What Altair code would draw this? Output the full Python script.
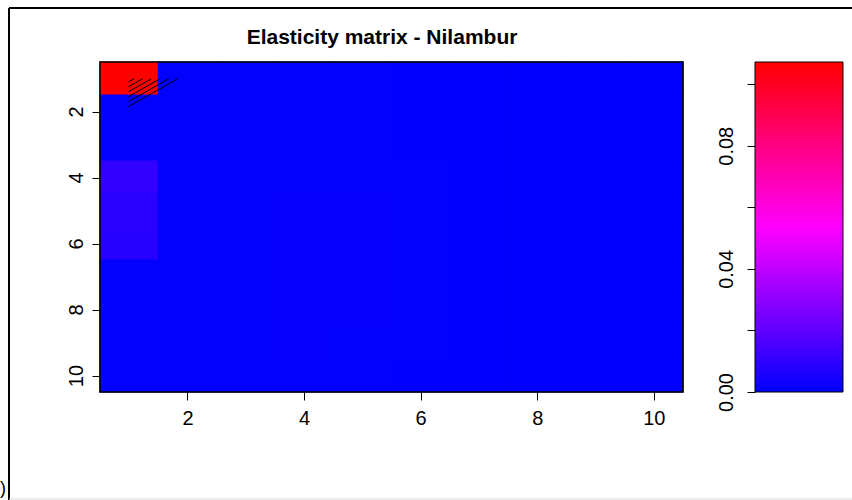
import altair as alt
import pandas as pd

title_text = "Elasticity matrix - Nilambur"
font = "Liberation Sans"

# matrix positions
rows = [1, 2, 3, 4, 5, 6, 7, 8, 9, 10]
cols = [1, 2, 3, 4, 5, 6, 7, 8, 9, 10]

# elasticity values, one list per matrix row
row_1 = [0.1072, 0.0004, 0.0004, 0.0004, 0.0004, 0.0003, 0.0003, 0.0003, 0.0003, 0.0003]
row_2 = [0.0006, 0.0004, 0.0004, 0.0004, 0.0004, 0.0003, 0.0003, 0.0003, 0.0003, 0.0003]
row_3 = [0.0006, 0.0004, 0.0004, 0.0004, 0.0004, 0.0003, 0.0003, 0.0003, 0.0003, 0.0003]
row_4 = [0.0105, 0.0004, 0.0004, 0.0006, 0.0005, 0.0004, 0.0003, 0.0003, 0.0003, 0.0003]
row_5 = [0.0088, 0.0005, 0.0004, 0.0013, 0.0010, 0.0004, 0.0003, 0.0003, 0.0003, 0.0003]
row_6 = [0.0085, 0.0005, 0.0004, 0.0013, 0.0010, 0.0004, 0.0003, 0.0003, 0.0003, 0.0003]
row_7 = [0.0006, 0.0004, 0.0004, 0.0013, 0.0010, 0.0004, 0.0003, 0.0003, 0.0003, 0.0003]
row_8 = [0.0006, 0.0004, 0.0004, 0.0013, 0.0010, 0.0004, 0.0003, 0.0003, 0.0003, 0.0003]
row_9 = [0.0005, 0.0004, 0.0004, 0.0012, 0.0005, 0.0004, 0.0003, 0.0003, 0.0003, 0.0003]
row_10 = [0.0005, 0.0004, 0.0004, 0.0005, 0.0004, 0.0003, 0.0003, 0.0003, 0.0003, 0.0003]
matrix = [row_1, row_2, row_3, row_4, row_5, row_6, row_7, row_8, row_9, row_10]

# tick values
axis_ticks = [2, 4, 6, 8, 10]
bar_ticks = [0.0, 0.02, 0.04, 0.06, 0.08, 0.10]

# hatch segments over the top-left cell (matrix units)
hatch_x0 = [0.99, 0.99, 0.99, 0.99, 0.99, 0.99]
hatch_y0 = [1.10, 1.25, 1.40, 1.55, 1.70, 1.85]
hatch_x1 = [1.08, 1.23, 1.38, 1.53, 1.68, 1.83]
hatch_y1 = [1.01, 1.01, 1.01, 1.01, 1.01, 1.01]

domain = [0.5, 10.5]
vmax = max(max(r) for r in matrix)

cells = pd.DataFrame(
    [
        {"x0": c - 0.5, "x1": c + 0.5, "y0": r - 0.5, "y1": r + 0.5, "value": v}
        for r, vals in zip(rows, matrix)
        for c, v in zip(cols, vals)
    ]
)

xs = alt.Scale(domain=domain, range=[100, 683], nice=False, zero=False)
ys = alt.Scale(domain=domain, range=[62, 392], nice=False, zero=False)
colors = alt.Scale(
    domain=[0, vmax / 2, vmax],
    range=["#0000ff", "#ff00ff", "#ff0000"],
    interpolate="rgb",
)

x_axis = alt.Axis(
    values=axis_ticks, format="d", title=None, grid=False, domain=False,
    tickSize=8, tickColor="black", labelFontSize=20, labelPadding=8,
    labelFlush=False, labelOverlap=False, offset=-108,
)
y_axis = alt.Axis(
    values=axis_ticks, format="d", title=None, grid=False, domain=False,
    tickSize=8, tickColor="black", labelFontSize=20, labelPadding=10,
    labelAngle=270, labelAlign="center", labelBaseline="alphabetic",
    labelFlush=False, labelOverlap=False, offset=-100,
)

heat = alt.Chart(cells).mark_rect(strokeWidth=1.2).encode(
    x=alt.X("x0:Q", scale=xs, axis=x_axis),
    x2="x1:Q",
    y=alt.Y("y0:Q", scale=ys, axis=y_axis),
    y2="y1:Q",
    color=alt.Color("value:Q", scale=colors, legend=None),
    stroke=alt.Stroke("value:Q", scale=colors, legend=None),
)

box = alt.Chart(
    pd.DataFrame({"x0": [domain[0]], "x1": [domain[1]], "y0": [domain[0]], "y1": [domain[1]]})
).mark_rect(fillOpacity=0, stroke="black", strokeWidth=1.5).encode(
    x=alt.X("x0:Q", scale=xs, axis=x_axis),
    x2="x1:Q",
    y=alt.Y("y0:Q", scale=ys, axis=y_axis),
    y2="y1:Q",
)

hatch = alt.Chart(
    pd.DataFrame({"x0": hatch_x0, "y0": hatch_y0, "x1": hatch_x1, "y1": hatch_y1})
).mark_rule(color="black", strokeWidth=1).encode(
    x=alt.X("x0:Q", scale=xs, axis=x_axis),
    y=alt.Y("y0:Q", scale=ys, axis=y_axis),
    x2="x1:Q",
    y2="y1:Q",
)

matrix_panel = alt.layer(heat, box, hatch)

# colour key on the right
gradient = alt.LinearGradient(
    gradient="linear",
    stops=[
        alt.GradientStop(color="#0000ff", offset=0),
        alt.GradientStop(color="#ff00ff", offset=0.5),
        alt.GradientStop(color="#ff0000", offset=1),
    ],
    x1=0, x2=0, y1=1, y2=0,
)
bar_axis = alt.Axis(
    orient="left", values=bar_ticks, title=None, grid=False, domain=False,
    tickSize=8, tickColor="black", labelFontSize=20, labelPadding=15,
    labelAngle=270, labelAlign="center", labelBaseline="alphabetic",
    labelFlush=False, labelOverlap=False, offset=-755,
    labelExpr="round(datum.value * 100) % 4 == 0 ? format(datum.value, '.2f') : ''",
)
colorbar = alt.Chart(pd.DataFrame({"lo": [0.0], "hi": [vmax]})).mark_rect(
    fill=gradient, stroke="black", strokeWidth=1
).encode(
    x=alt.value(755),
    x2=alt.value(843),
    y=alt.Y("lo:Q", scale=alt.Scale(domain=[0, vmax], range=[392, 62], nice=False, zero=False), axis=bar_axis),
    y2="hi:Q",
)

one = pd.DataFrame({"k": [0]})
title = alt.Chart(one).mark_text(
    text=title_text, font=font, fontSize=21, fontWeight="bold",
    align="center", baseline="middle", color="black",
).encode(x=alt.value(382), y=alt.value(38))

frame_left = alt.Chart(one).mark_rule(color="black", strokeWidth=2).encode(
    x=alt.value(9), y=alt.value(8), y2=alt.value(500)
)
frame_top = alt.Chart(one).mark_rule(color="black", strokeWidth=2).encode(
    x=alt.value(9), x2=alt.value(852), y=alt.value(8)
)
frame_bottom = alt.Chart(one).mark_rule(color="#d9d9d9", strokeWidth=1).encode(
    x=alt.value(9), x2=alt.value(852), y=alt.value(499)
)
edge_char = alt.Chart(one).mark_text(
    text=")", font=font, fontSize=18, align="left", baseline="alphabetic", color="black"
).encode(x=alt.value(0), y=alt.value(494))

chart = (
    alt.layer(matrix_panel, colorbar, title, frame_left, frame_top, frame_bottom, edge_char)
    .resolve_scale(y="independent")
    .properties(width=852, height=500, autosize=alt.AutoSizeParams(type="none"), padding=0, background="white")
    .configure_view(stroke=None)
    .configure_axis(labelFont=font, labelColor="black")
)

chart.save("out.html", embed_options={"renderer": "svg", "actions": False})
